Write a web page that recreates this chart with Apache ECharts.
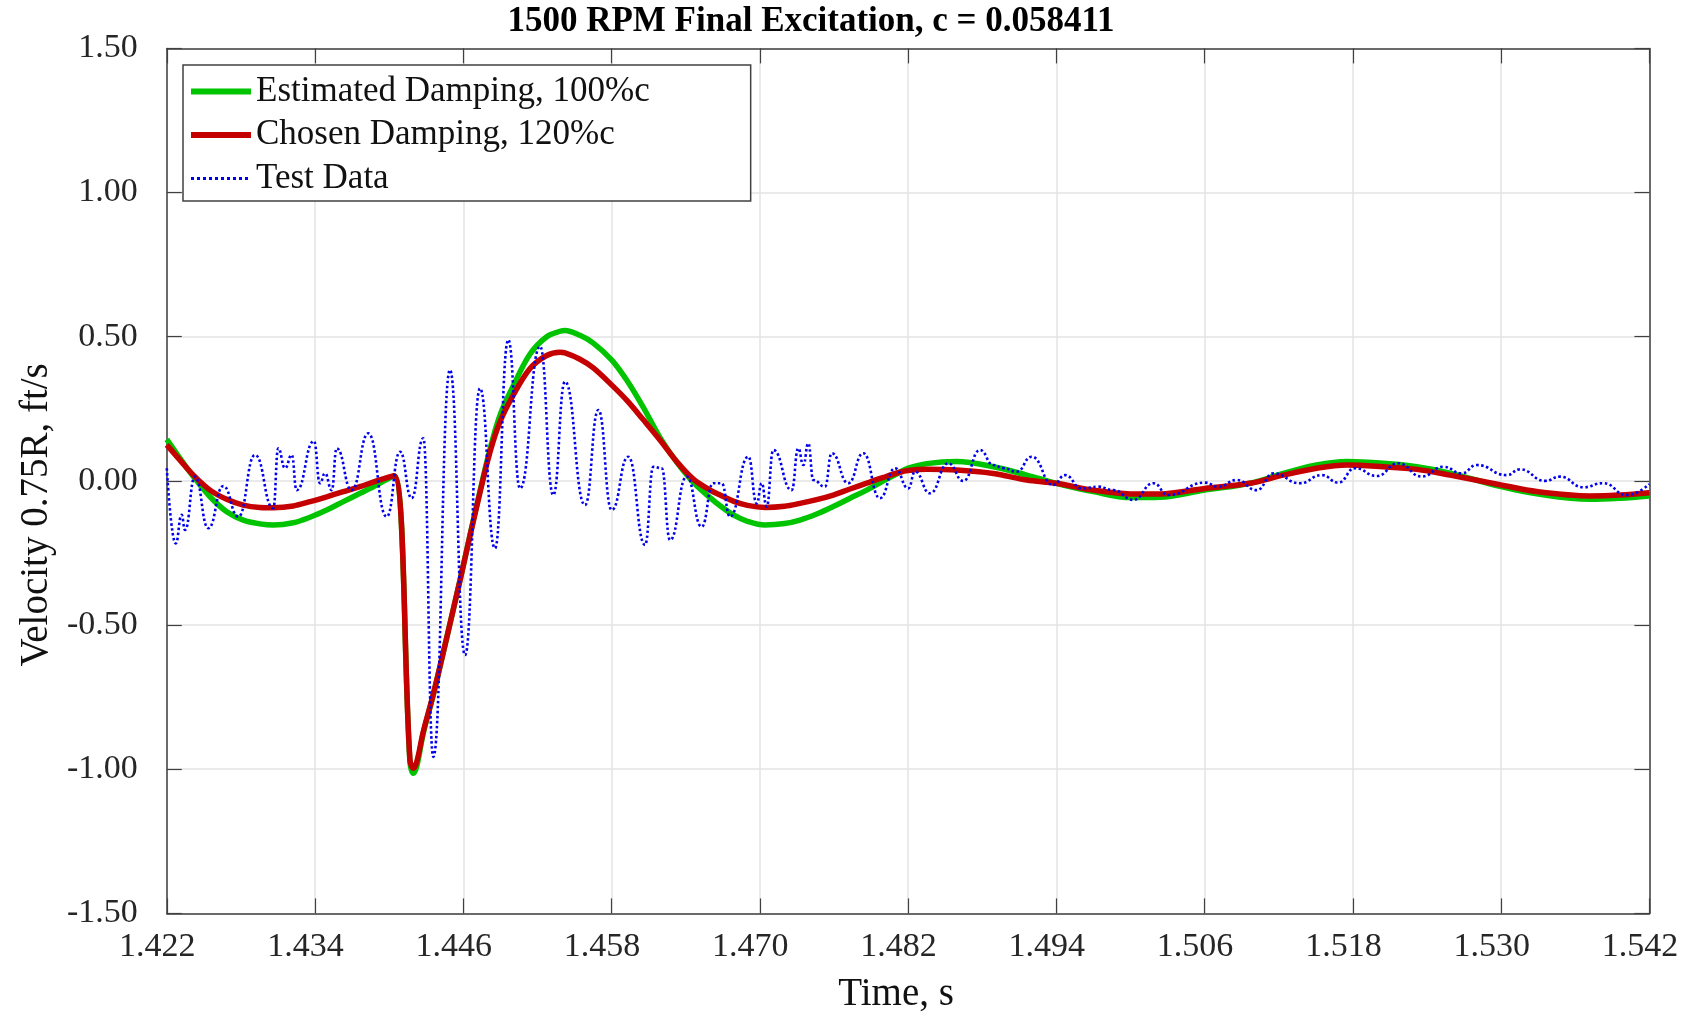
<!DOCTYPE html>
<html>
<head>
<meta charset="utf-8">
<script src="https://cdn.jsdelivr.net/npm/echarts@6/dist/echarts.min.js"></script>
<style>
html,body{margin:0;padding:0;background:#fff;}
#chart{width:1687px;height:1012px;}
</style>
</head>
<body>
<div id="chart"></div>
<script>
// ---------- data ----------
const chartTitle = '1500 RPM Final Excitation, c = 0.058411';
const seriesNames = ['Estimated Damping, 100%c', 'Chosen Damping, 120%c', 'Test Data'];
const xTickLabels = ['1.422','1.434','1.446','1.458','1.470','1.482','1.494','1.506','1.518','1.530','1.542'];
const yTickLabels = ['-1.50','-1.00','-0.50','0.00','0.50','1.00','1.50'];

// model curves (time s, velocity ft/s)
const fitT = [1.42200,1.42307,1.42415,1.42550,1.42685,1.42819,1.42954,1.43062,1.43224,1.43359,
  1.43494,1.43629,1.43764,1.43899,1.44040,1.44168,1.44195,1.44223,1.44276,1.44357,
  1.44465,1.44573,1.44654,1.44735,1.44816,1.44897,1.45005,1.45140,1.45275,1.45383,
  1.45423,1.45544,1.45652,1.45800,1.45922,1.46057,1.46192,1.46327,1.46462,1.46597,
  1.46678,1.46785,1.46900,1.47042,1.47200,1.47325,1.47460,1.47594,1.47730,1.47865,
  1.48000,1.48133,1.48200,1.48351,1.48593,1.48890,1.49160,1.49397,1.49699,1.50000,
  1.50239,1.50600,1.50967,1.51237,1.51507,1.51750,1.52046,1.52317,1.52586,1.53000,
  1.53288,1.53719,1.53962,1.54200];
const greenV = [0.144,0.078,0.015,-0.055,-0.107,-0.136,-0.149,-0.153,-0.145,-0.126,
  -0.101,-0.072,-0.043,-0.014,0.018,-0.975,-1.014,-0.990,-0.875,-0.742,
  -0.545,-0.345,-0.188,-0.035,0.110,0.228,0.330,0.440,0.500,0.519,
  0.522,0.505,0.478,0.420,0.350,0.255,0.150,0.065,-0.005,-0.058,
  -0.086,-0.118,-0.140,-0.153,-0.148,-0.136,-0.115,-0.089,-0.060,-0.032,
  0.000,0.030,0.044,0.060,0.067,0.049,0.020,-0.008,-0.037,-0.058,
  -0.057,-0.032,-0.008,0.026,0.055,0.067,0.061,0.049,0.027,-0.020,
  -0.045,-0.064,-0.060,-0.052];
const redV = [0.125,0.072,0.020,-0.032,-0.064,-0.084,-0.092,-0.093,-0.087,-0.072,
  -0.055,-0.037,-0.020,0.000,0.018,-0.968,-0.997,-0.975,-0.870,-0.740,
  -0.545,-0.345,-0.190,-0.040,0.100,0.205,0.298,0.390,0.435,0.446,
  0.444,0.422,0.392,0.333,0.280,0.212,0.142,0.067,0.006,-0.032,
  -0.049,-0.070,-0.085,-0.092,-0.088,-0.078,-0.065,-0.049,-0.028,-0.008,
  0.012,0.030,0.036,0.040,0.038,0.026,0.003,-0.008,-0.032,-0.045,
  -0.045,-0.026,-0.008,0.020,0.044,0.055,0.049,0.040,0.020,-0.014,
  -0.037,-0.052,-0.049,-0.041];

// test data (peaks / troughs)
const testT = [1.42200,1.42272,1.42320,1.42347,1.42428,1.42536,1.42657,1.42779,1.42914,1.43062,
  1.43102,1.43157,1.43211,1.43251,1.43391,1.43440,1.43480,1.43535,1.43575,1.43697,
  1.43831,1.43980,1.44088,1.44182,1.44276,1.44357,1.44492,1.44614,1.44735,1.44856,
  1.44964,1.45059,1.45221,1.45328,1.45423,1.45585,1.45693,1.45801,1.45935,1.46071,
  1.46138,1.46206,1.46273,1.46408,1.46529,1.46623,1.46691,1.46759,1.46907,1.46975,
  1.47015,1.47055,1.47109,1.47258,1.47311,1.47352,1.47392,1.47433,1.47527,1.47582,
  1.47716,1.47837,1.47972,1.48094,1.48202,1.48256,1.48377,1.48525,1.48647,1.48782,
  1.48890,1.48971,1.49079,1.49200,1.49375,1.49470,1.49605,1.49739,1.49861,1.50023,
  1.50185,1.50306,1.50603,1.50711,1.50860,1.51022,1.51156,1.51372,1.51548,1.51682,
  1.51817,1.51993,1.52168,1.52357,1.52532,1.52681,1.52802,1.53045,1.53153,1.53355,
  1.53476,1.53665,1.53827,1.54016,1.54199];
const testV = [0.044,-0.217,-0.118,-0.170,0.015,-0.164,-0.018,-0.124,0.090,-0.095,
  0.113,0.044,0.090,-0.032,0.138,-0.008,0.026,-0.032,0.113,-0.032,
  0.165,-0.124,0.101,-0.060,0.148,-0.957,0.385,-0.604,0.321,-0.234,
  0.489,-0.026,0.466,-0.049,0.344,-0.084,0.246,-0.101,0.084,-0.222,
  0.049,0.044,-0.205,0.015,-0.159,-0.008,-0.008,-0.124,0.084,-0.078,
  -0.008,-0.089,0.107,-0.032,0.113,0.055,0.130,0.003,-0.020,0.096,
  -0.008,0.096,-0.060,0.044,-0.026,0.032,-0.043,0.061,0.000,0.107,
  0.055,0.044,0.032,0.084,-0.014,0.020,-0.026,-0.020,-0.032,-0.066,
  -0.008,-0.049,-0.006,-0.020,0.003,-0.032,0.026,-0.008,0.020,-0.006,
  0.044,0.017,0.061,0.015,0.049,0.026,0.055,0.020,0.040,0.000,
  0.015,-0.022,-0.008,-0.049,-0.011];

// ---------- build ----------
const T0 = 1.422, XSPAN = 0.12, XSTEP = 0.012;
function pairs(ts, vs) { return ts.map((t, i) => [+(t - T0).toFixed(6), vs[i]]); }

const FONT = 'Liberation Serif, Times New Roman, serif';
const AX = '#404040';
const GRIDC = '#e3e3e3';
const TICKLEN = 15;
const GREEN = '#00c400', RED = '#c40000', BLUE = '#0000ee';

const chart = echarts.init(document.getElementById('chart'), null, {renderer: 'canvas'});
const xLabelFmt = v => { const i = Math.round(v / XSTEP); return xTickLabels[i] !== undefined ? xTickLabels[i] : ''; };
const yLabelFmt = v => { const i = Math.round((v + 1.5) / 0.5); return yTickLabels[i] !== undefined ? yTickLabels[i] : ''; };

chart.setOption({
  animation: false,
  backgroundColor: '#ffffff',
  title: {
    text: chartTitle,
    left: 806,
    top: -1,
    textAlign: 'center',
    textStyle: {fontFamily: FONT, fontWeight: 'bold', fontSize: 35, color: '#000'}
  },
  grid: {left: 166.8, right: 37.6, top: 48.4, bottom: 98.6, containLabel: false, outerBoundsMode: 'none'},
  legend: {
    orient: 'vertical',
    left: 183,
    top: 65,
    padding: [9, 101, 5, 5],
    itemWidth: 60,
    itemHeight: 14,
    itemGap: 8.5,
    borderColor: '#404040',
    borderWidth: 1.5,
    backgroundColor: '#ffffff',
    textStyle: {fontFamily: FONT, fontSize: 35, color: '#111'},
    data: [
      {name: seriesNames[0], itemStyle: {opacity: 0}, lineStyle: {color: GREEN, width: 6, type: 'solid'}},
      {name: seriesNames[1], itemStyle: {opacity: 0}, lineStyle: {color: RED, width: 6, type: 'solid'}},
      {name: seriesNames[2], itemStyle: {opacity: 0}, lineStyle: {color: BLUE, width: 3, type: [3, 3]}}
    ]
  },
  xAxis: [{
    type: 'value', min: 0, max: XSPAN, interval: XSTEP, position: 'bottom',
    name: 'Time, s', nameLocation: 'middle', nameGap: 62,
    nameTextStyle: {fontFamily: FONT, fontSize: 39, color: '#111', padding: [0, 24, 0, 0]},
    axisLine: {show: true, onZero: false, lineStyle: {color: AX, width: 1.5}},
    axisTick: {show: true, inside: true, length: TICKLEN, lineStyle: {color: AX, width: 1.2}},
    axisLabel: {formatter: xLabelFmt, fontFamily: FONT, fontSize: 34, color: '#262626', margin: 17, padding: [0, 19, 0, 0]},
    splitLine: {show: true, lineStyle: {color: GRIDC, width: 1.5}}
  }, {
    type: 'value', min: 0, max: XSPAN, interval: XSTEP, position: 'top',
    axisLine: {show: true, onZero: false, lineStyle: {color: AX, width: 1.5}},
    axisTick: {show: true, inside: true, length: TICKLEN, lineStyle: {color: AX, width: 1.2}},
    axisLabel: {show: false},
    splitLine: {show: false}
  }],
  yAxis: [{
    type: 'value', min: -1.5, max: 1.5, interval: 0.5, position: 'left',
    name: 'Velocity 0.75R, ft/s', nameLocation: 'middle', nameGap: 111, nameRotate: 90,
    nameTextStyle: {fontFamily: FONT, fontSize: 39, color: '#111', padding: [0, 68, 0, 0]},
    axisLine: {show: true, onZero: false, lineStyle: {color: AX, width: 1.5}},
    axisTick: {show: true, inside: true, length: TICKLEN, lineStyle: {color: AX, width: 1.2}},
    axisLabel: {formatter: yLabelFmt, fontFamily: FONT, fontSize: 34, color: '#262626', margin: 29},
    splitLine: {show: true, lineStyle: {color: GRIDC, width: 1.5}}
  }, {
    type: 'value', min: -1.5, max: 1.5, interval: 0.5, position: 'right',
    axisLine: {show: true, onZero: false, lineStyle: {color: AX, width: 1.5}},
    axisTick: {show: true, inside: true, length: TICKLEN, lineStyle: {color: AX, width: 1.2}},
    axisLabel: {show: false},
    splitLine: {show: false}
  }],
  series: [{
    name: seriesNames[0], type: 'line', xAxisIndex: 0, yAxisIndex: 0,
    data: pairs(fitT, greenV), symbol: 'none', smooth: 0.35,
    lineStyle: {color: GREEN, width: 5.5}, itemStyle: {color: GREEN}, z: 2
  }, {
    name: seriesNames[1], type: 'line', xAxisIndex: 0, yAxisIndex: 0,
    data: pairs(fitT, redV), symbol: 'none', smooth: 0.35,
    lineStyle: {color: RED, width: 5.5}, itemStyle: {color: RED}, z: 3
  }, {
    name: seriesNames[2], type: 'line', xAxisIndex: 0, yAxisIndex: 0,
    data: pairs(testT, testV), symbol: 'none', smooth: 0.5, smoothMonotone: 'x',
    lineStyle: {color: BLUE, width: 2.6, type: [2.5, 2.5]}, itemStyle: {color: BLUE}, z: 4
  }]
});
</script>
</body>
</html>
